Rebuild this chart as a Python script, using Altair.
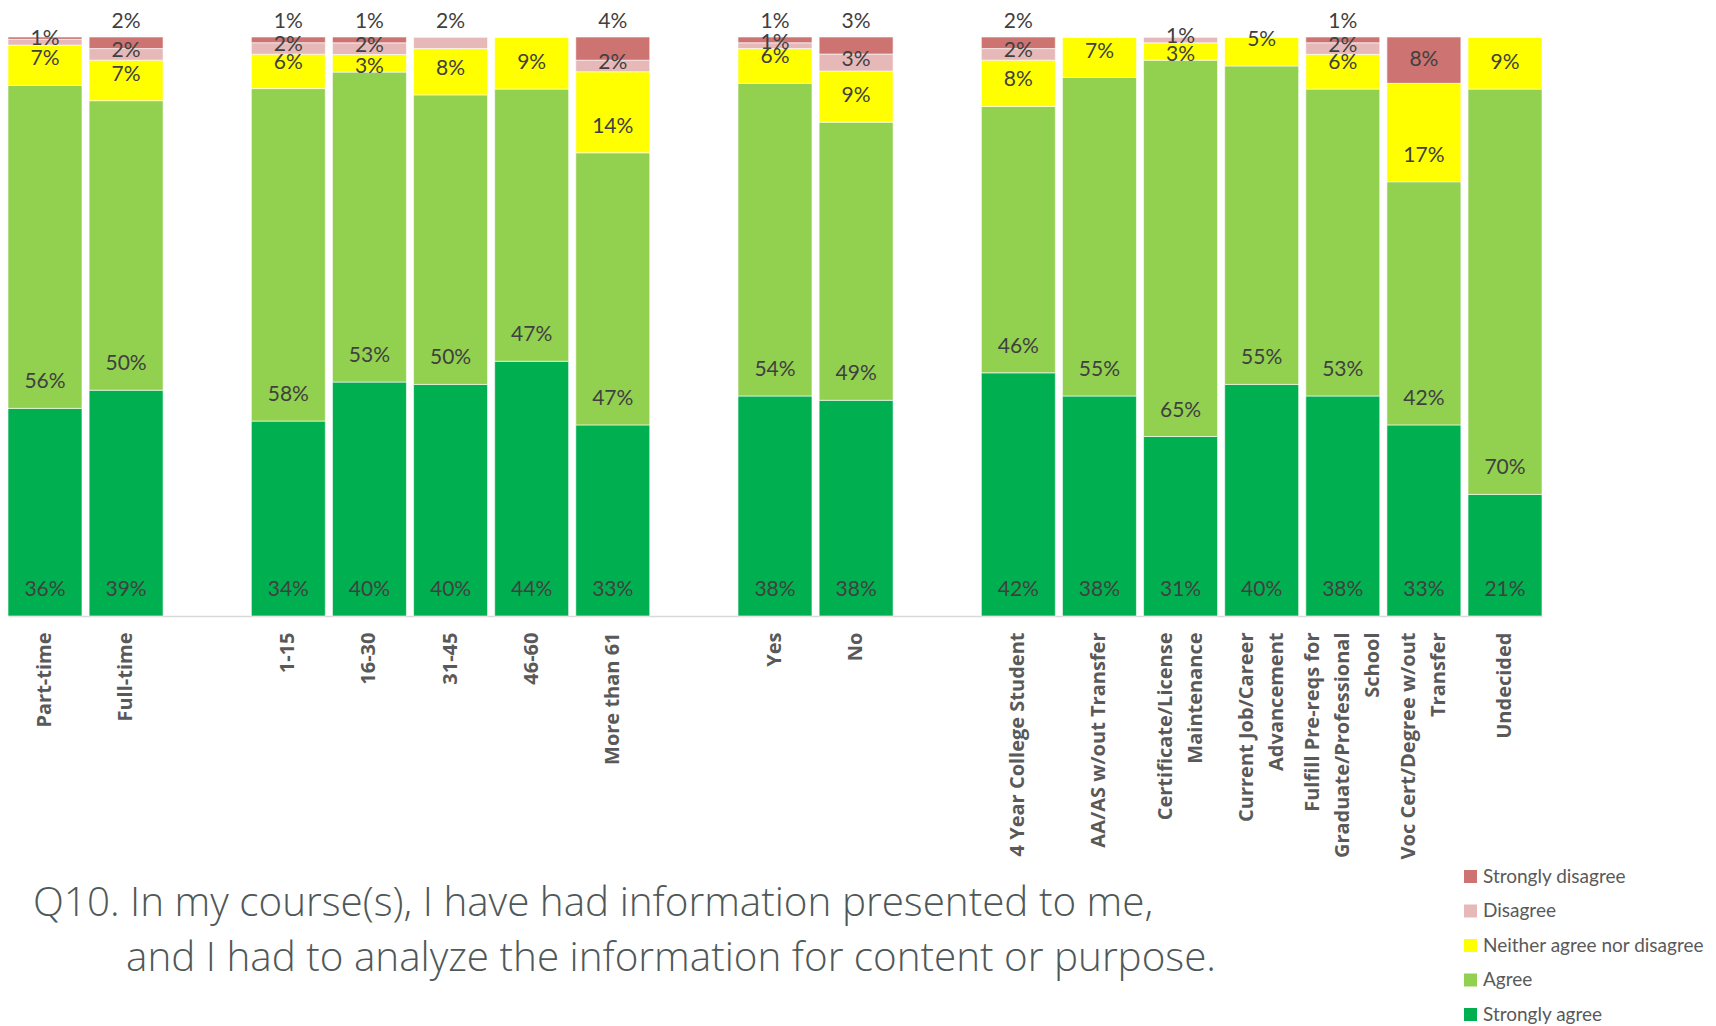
import altair as alt
import pandas as pd

# ---- data ----
categories = [
    "Part-time", "Full-time",
    "1-15", "16-30", "31-45", "46-60", "More than 61",
    "Yes", "No",
    "4 Year College Student", "AA/AS w/out Transfer",
    "Certificate/License\nMaintenance", "Current Job/Career\nAdvancement",
    "Fulfill Pre-reqs for\nGraduate/Professional\nSchool",
    "Voc Cert/Degree w/out\nTransfer", "Undecided",
]
# axis order including empty spacer slots between groups
axis_order = [
    "Part-time", "Full-time", " ",
    "1-15", "16-30", "31-45", "46-60", "More than 61", "  ",
    "Yes", "No", "   ",
    "4 Year College Student", "AA/AS w/out Transfer",
    "Certificate/License\nMaintenance", "Current Job/Career\nAdvancement",
    "Fulfill Pre-reqs for\nGraduate/Professional\nSchool",
    "Voc Cert/Degree w/out\nTransfer", "Undecided",
]

strongly_agree    = [36, 39, 34, 40, 40, 44, 33, 38, 38, 42, 38, 31, 40, 38, 33, 21]
agree             = [56, 50, 58, 53, 50, 47, 47, 54, 49, 46, 55, 65, 55, 53, 42, 70]
neither           = [7, 7, 6, 3, 8, 9, 14, 6, 9, 8, 7, 3, 5, 6, 17, 9]
disagree          = [1, 2, 2, 2, 2, 0, 2, 1, 3, 2, 0, 1, 0, 2, 0, 0]
strongly_disagree = [0.4, 2, 1, 1, 0, 0, 4, 1, 3, 2, 0, 0, 0, 1, 8, 0]

responses_bottom_up = ["Strongly agree", "Agree", "Neither agree nor disagree",
                       "Disagree", "Strongly disagree"]
legend_order = ["Strongly disagree", "Disagree", "Neither agree nor disagree",
                "Agree", "Strongly agree"]
legend_colors = ["#CD7371", "#E6B9B8", "#FFFF00", "#92D050", "#00B050"]

title_line1 = "Q10. In my course(s), I have had information presented to me,"
title_line2 = "and I had to analyze the information for content or purpose."

series = [strongly_agree, agree, neither, disagree, strongly_disagree]
rows = []
for i, cat in enumerate(categories):
    for k, (resp, arr) in enumerate(zip(responses_bottom_up, series)):
        rows.append({"category": cat, "response": resp, "value": arr[i], "order": k})
df = pd.DataFrame(rows)

W = 1534
H = 579

xscale = alt.Scale(domain=axis_order, paddingInner=0.088, paddingOuter=0)
yscale = alt.Scale(domain=[0, 1])
color_scale = alt.Scale(domain=legend_order, range=legend_colors)

base = alt.Chart(df).transform_stack(
    stack="value", groupby=["category"], as_=["y0", "y1"],
    offset="normalize", sort=[alt.SortField("order", order="ascending")],
).transform_calculate(
    mid="(datum.y0 + datum.y1) / 2",
    label="format(datum.value, '.0f') + '%'",
    sdv="datum.response == 'Strongly disagree' ? datum.value : 0",
).transform_joinaggregate(
    sd_total="sum(sdv)", groupby=["category"],
)

xenc = alt.X(
    "category:N", scale=xscale, sort=axis_order,
    axis=alt.Axis(
        title=None, labelAngle=-90, ticks=False, labelPadding=16,
        labelFont="Open Sans", labelFontWeight="bold", labelFontSize=20,
        labelColor="#595959", labelLineHeight=30, labelLimit=500,
        labelOverlap=False, domainColor="#d9d9d9", domainWidth=1.5,
        labelExpr="split(datum.value, '\\n')",
        labelOffset={
            "condition": [
                {"test": "length(split(datum.value, '\\n')) == 3", "value": -30},
                {"test": "length(split(datum.value, '\\n')) == 2", "value": -15},
            ],
            "value": 0,
        },
    ),
)

bars = base.mark_bar(stroke="white", strokeWidth=0.6).encode(
    x=xenc,
    y=alt.Y("y0:Q", scale=yscale, axis=None),
    y2="y1:Q",
    color=alt.Color(
        "response:N", scale=color_scale,
        legend=alt.Legend(
            title=None, orient="none", legendX=1453, legendY=830,
            symbolType="square", symbolSize=169, symbolStrokeWidth=0,
            labelFont="Lato", labelFontSize=19, labelColor="#595959",
            rowPadding=14.5, labelOffset=3, padding=0, labelLimit=400,
        ),
    ),
)

txt = dict(font="Lato", fontSize=21, color="#404040", baseline="middle", align="center")
xt = alt.X("category:N", scale=xscale, sort=axis_order)

# "inside base" labels for the larger segments
lab_base = base.transform_filter(
    "indexof(['Strongly agree','Agree','Neither agree nor disagree'], datum.response) >= 0"
    " && datum.value >= 4"
).mark_text(dy=-26, **txt).encode(x=xt, y=alt.Y("y0:Q", scale=yscale), text="label:N")

# small neutral segments: label just above their base
lab_nsmall = base.transform_filter(
    "datum.response == 'Neither agree nor disagree' && datum.value >= 0.5 && datum.value < 4"
).mark_text(dy=-5, **txt).encode(x=xt, y=alt.Y("y0:Q", scale=yscale), text="label:N")

# disagree labels, near the middle of their segment
lab_dis = base.transform_filter(
    "datum.response == 'Disagree' && datum.value >= 0.5 && !(datum.sd_total == 0 && datum.value >= 2)"
).mark_text(dy=-3, **txt).encode(x=xt, y=alt.Y("mid:Q", scale=yscale), text="label:N")

# large strongly-disagree segments: centred label
lab_sd = base.transform_filter(
    "datum.response == 'Strongly disagree' && datum.value >= 5"
).mark_text(**txt).encode(x=xt, y=alt.Y("mid:Q", scale=yscale), text="label:N")

# labels lifted above the top of the bar
lab_top = base.transform_filter(
    "(datum.response == 'Strongly disagree' && datum.value >= 0.5 && datum.value < 5)"
    " || (datum.response == 'Disagree' && datum.sd_total == 0 && datum.value >= 2)"
).mark_text(dy=-15, **txt).encode(x=xt, y=alt.Y("y1:Q", scale=yscale), text="label:N")

ttl = dict(font="Open Sans", fontWeight=300, fontSize=40.4, color="#4f5858",
           align="left", baseline="middle")
t1 = alt.Chart(pd.DataFrame({"t": [title_line1]})).mark_text(**ttl).encode(
    text="t:N", x=alt.value(25), y=alt.value(867))
t2 = alt.Chart(pd.DataFrame({"t": [title_line2]})).mark_text(**ttl).encode(
    text="t:N", x=alt.value(118), y=alt.value(922))

chart = alt.layer(bars, lab_base, lab_nsmall, lab_dis, lab_sd, lab_top, t1, t2).properties(
    width=W, height=H,
    autosize=alt.AutoSizeParams(type="none"),
    padding={"left": 0, "top": 29, "right": 165, "bottom": 410},
).configure_view(stroke=None)

chart.save("out.html", embed_options={"renderer": "svg", "actions": False})
